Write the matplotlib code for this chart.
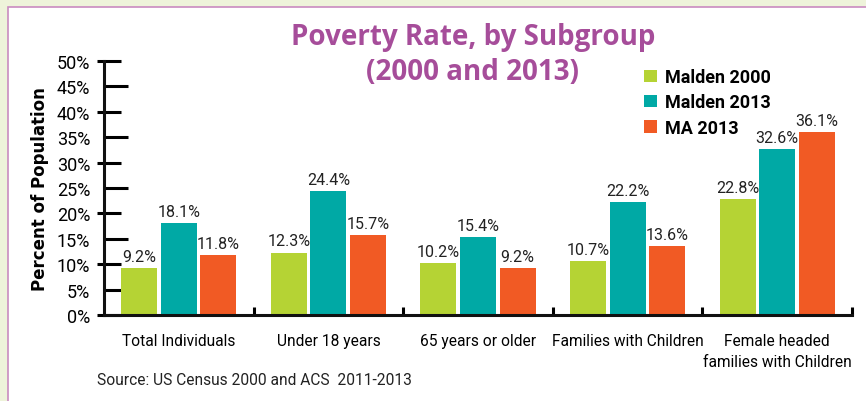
import matplotlib.pyplot as plt
import numpy as np
from matplotlib.patches import Rectangle

categories = ["Total Individuals", "Under 18 years", "65 years or older",
              "Families with Children", "Female headed\nfamilies with Children"]
series_names = ["Malden 2000", "Malden 2013", "MA 2013"]
malden_2000 = [9.2, 12.3, 10.2, 10.7, 22.8]
malden_2013 = [18.1, 24.4, 15.4, 22.2, 32.6]
ma_2013 = [11.8, 15.7, 9.2, 13.6, 36.1]
colors = ["#B5D334", "#00A9A5", "#F15A24"]
y_ticks = list(range(0, 51, 5))

plt.rcParams['font.family'] = ['Roboto', 'DejaVu Sans']

fig = plt.figure(figsize=(8.66, 4.02), dpi=100)
fig.patch.set_facecolor("#EEF3DA")
# white panel with pink border
fig.patches.append(Rectangle((8 / 866, -0.1), 1.1, 1 - 8 / 402 + 0.1,
                             transform=fig.transFigure, facecolor="white",
                             edgecolor="#C98BC0", linewidth=1.2, zorder=-5))

ax = fig.add_axes([104 / 866, 1 - 316 / 402, 748 / 866, (316 - 62) / 402])
ax.set_facecolor("none")

x = np.arange(len(categories))
offsets = [-0.265, 0.0, 0.265]
for vals, off, col, name in zip([malden_2000, malden_2013, ma_2013], offsets, colors, series_names):
    bars = ax.bar(x + off, vals, width=0.24, color=col, label=name, zorder=2)
    for b, v in zip(bars, vals):
        ax.text(b.get_x() + b.get_width() / 2, v + 0.8, f"{v:.1f}%",
                ha="center", va="bottom", fontsize=11.5, color="#222222")

ax.set_xlim(-0.5, len(categories) - 0.5)
ax.set_ylim(0, 50)

for s in ["top", "right"]:
    ax.spines[s].set_visible(False)
for s in ["left", "bottom"]:
    ax.spines[s].set_linewidth(2.2)
    ax.spines[s].set_color("#111111")

# y ticks: every 5% pointing in, 10% steps also poke out a little
ax.set_yticks(y_ticks)
ax.set_yticklabels([f"{v}%" for v in y_ticks], fontsize=13)
ax.tick_params(axis="y", which="major", direction="in", length=12, width=2.2, pad=10)
for t, v in zip(ax.yaxis.get_major_ticks(), y_ticks):
    if v % 10:
        t.tick1line.set_markersize(17)
ax.yaxis.remove_overlapping_locs = False
ax.set_yticks(y_ticks[::2], minor=True)
ax.tick_params(axis="y", which="minor", direction="out", length=5, width=2.2)

ax.set_xticks(x)
ax.set_xticklabels(categories, fontsize=11.2, linespacing=1.5)
ax.tick_params(axis="x", which="major", length=0, pad=13)
ax.set_xticks(np.arange(len(categories)) + 0.5, minor=True)
ax.tick_params(axis="x", which="minor", direction="in", length=6, width=2.2)

ax.set_ylabel("Percent of Population", fontsize=12, fontweight="bold",
              family=["DejaVu Sans"])
ax.yaxis.set_label_coords(-0.073, 0.5)

fig.text(473 / 866, 1 - 38 / 402, "Poverty Rate, by Subgroup", ha="center", va="center",
         fontsize=20, fontweight="bold", color="#A64D9A", family=["Open Sans", "DejaVu Sans"])
fig.text(473 / 866, 1 - 73 / 402, "(2000 and 2013)", ha="center", va="center",
         fontsize=20, fontweight="bold", color="#A64D9A", family=["Open Sans", "DejaVu Sans"])

leg = ax.legend(loc="upper left", bbox_to_anchor=(533 / 748, 1.0), frameon=False,
                prop={"size": 13, "weight": "bold"}, handlelength=0.7, handleheight=0.7,
                handletextpad=0.45, labelspacing=0.4, borderaxespad=0)

fig.text(97 / 866, 1 - 381 / 402, "Source: US Census 2000 and ACS  2011-2013",
         ha="left", va="center", fontsize=11.2, color="#222222")

fig.savefig("out.png", dpi=100, facecolor=fig.get_facecolor())
